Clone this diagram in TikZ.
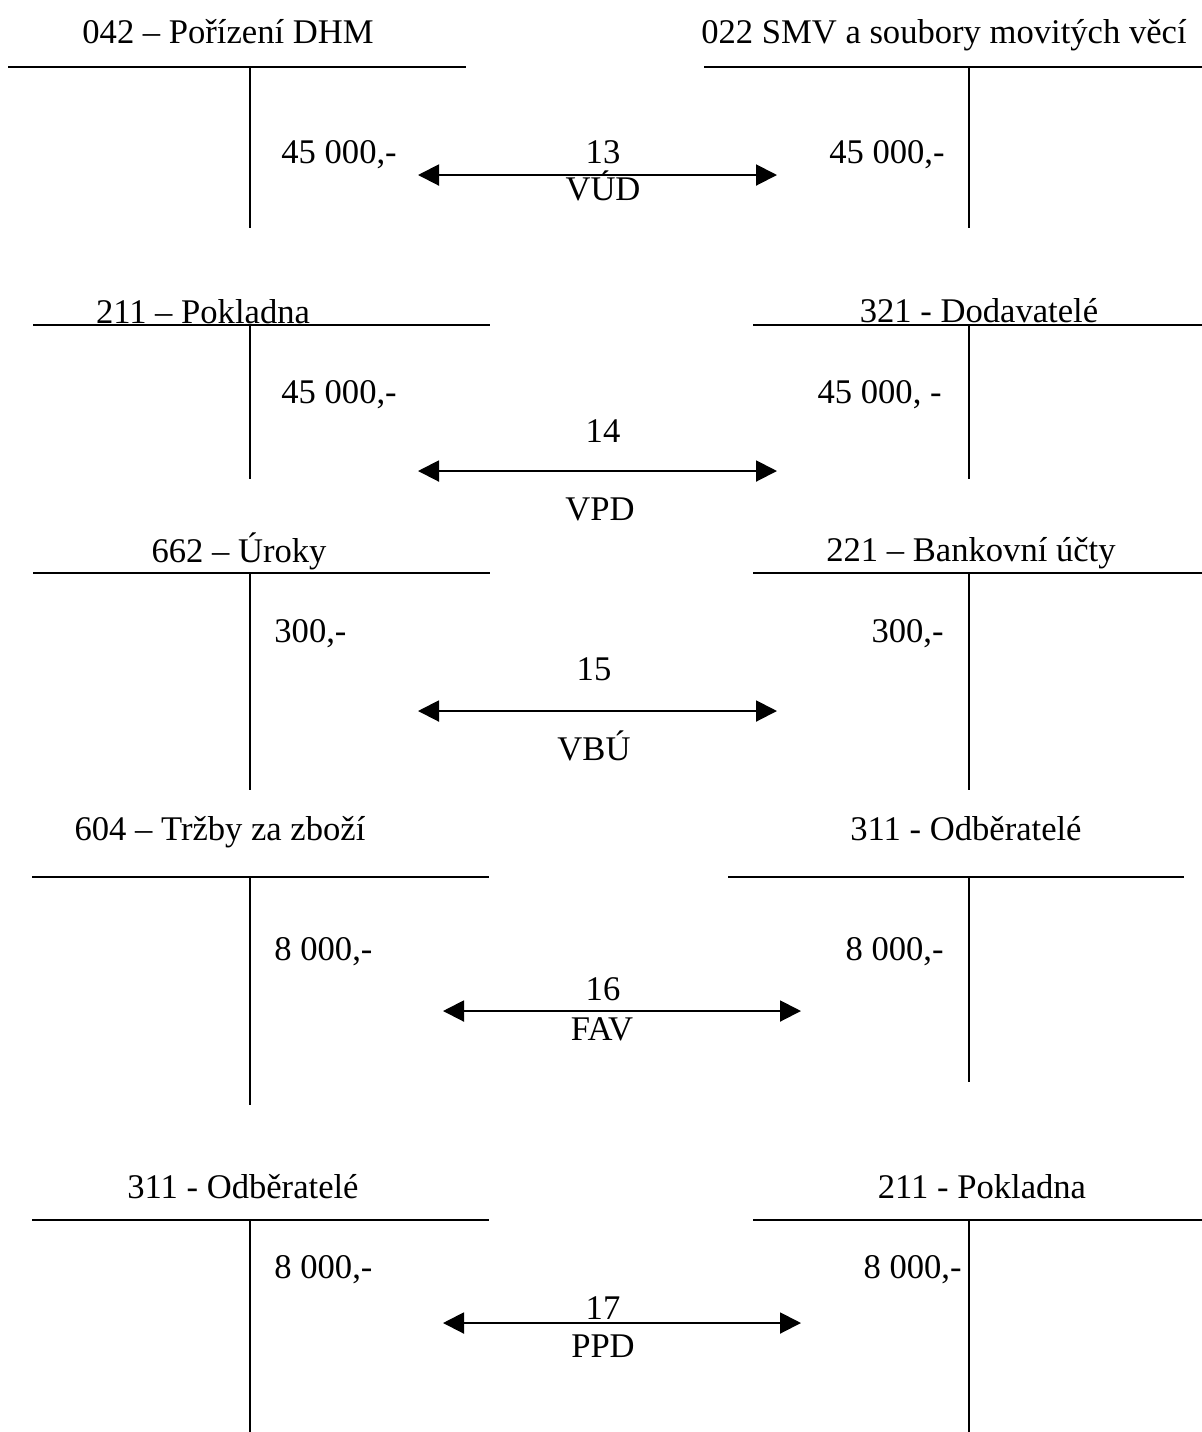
\documentclass[tikz,border=0pt]{standalone}
\usepackage{fontspec}
\setmainfont{Liberation Serif}
\usetikzlibrary{arrows.meta}
\begin{document}
\begin{tikzpicture}[x=0.5pt,y=-0.5pt,font=\fontsize{17.3}{20}\selectfont,
  >={Triangle[length=10.5pt,width=10.5pt]},
  every node/.style={inner sep=0pt},
  title/.style={anchor=base},
  amtl/.style={anchor=base west},
  amtr/.style={anchor=base east},
  lbl/.style={anchor=base},
  rule/.style={line width=1pt},
  split/.style={line width=0.7pt},
  conn/.style={<->,line width=1pt}]
  \useasboundingbox (0,0) rectangle (1202,1432);
  % 13
  \node[title] (t13l) at (228,43) {042 – Pořízení DHM};
  \node[title] (t13r) at (944,43) {022 SMV a soubory movitých věcí};
  \draw[rule] (8,67) -- (466,67);
  \draw[rule] (704,67) -- (1202,67);
  \draw[split] (250,67) -- (250,228);
  \draw[split] (969,67) -- (969,228);
  \node[amtl] (a13l) at (281,163) {45 000,-};
  \node[amtr] (a13r) at (945,163) {45 000,-};
  \node[lbl] (n13) at (603,163) {13};
  \node[lbl] (d13) at (603,200) {VÚD};
  \coordinate (e13l) at (418,175);
  \coordinate (e13r) at (777,175);
  \draw[conn] (e13l) -- (e13r);
  % 14
  \node[title] (t14l) at (203,323) {211 – Pokladna};
  \node[title] (t14r) at (979,322) {321 - Dodavatelé};
  \draw[rule] (33,325) -- (490,325);
  \draw[rule] (753,325) -- (1202,325);
  \draw[split] (250,325) -- (250,479);
  \draw[split] (969,325) -- (969,479);
  \node[amtl] (a14l) at (281,403) {45 000,-};
  \node[amtr] (a14r) at (942,403) {45 000, -};
  \node[lbl] (n14) at (603,442) {14};
  \node[lbl] (d14) at (600,520) {VPD};
  \coordinate (e14l) at (418,471);
  \coordinate (e14r) at (777,471);
  \draw[conn] (e14l) -- (e14r);
  % 15
  \node[title] (t15l) at (239,562) {662 – Úroky};
  \node[title] (t15r) at (971,561) {221 – Bankovní účty};
  \draw[rule] (33,573) -- (490,573);
  \draw[rule] (753,573) -- (1202,573);
  \draw[split] (250,573) -- (250,790);
  \draw[split] (969,573) -- (969,790);
  \node[amtl] (a15l) at (274,642) {300,-};
  \node[amtr] (a15r) at (944,642) {300,-};
  \node[lbl] (n15) at (594,680) {15};
  \node[lbl] (d15) at (594,760) {VBÚ};
  \coordinate (e15l) at (418,711);
  \coordinate (e15r) at (777,711);
  \draw[conn] (e15l) -- (e15r);
  % 16
  \node[title] (t16l) at (220,840) {604 – Tržby za zboží};
  \node[title] (t16r) at (966,840) {311 - Odběratelé};
  \draw[rule] (32,877) -- (489,877);
  \draw[rule] (728,877) -- (1184,877);
  \draw[split] (250,877) -- (250,1105);
  \draw[split] (969,877) -- (969,1082);
  \node[amtl] (a16l) at (274,960) {8 000,-};
  \node[amtr] (a16r) at (944,960) {8 000,-};
  \node[lbl] (n16) at (603,1000) {16};
  \node[lbl] (d16) at (602,1040) {FAV};
  \coordinate (e16l) at (443,1011);
  \coordinate (e16r) at (801,1011);
  \draw[conn] (e16l) -- (e16r);
  % 17
  \node[title] (t17l) at (243,1198) {311 - Odběratelé};
  \node[title] (t17r) at (982,1198) {211 - Pokladna};
  \draw[rule] (32,1220) -- (489,1220);
  \draw[rule] (753,1220) -- (1202,1220);
  \draw[split] (250,1220) -- (250,1432);
  \draw[split] (969,1220) -- (969,1432);
  \node[amtl] (a17l) at (274,1278) {8 000,-};
  \node[amtr] (a17r) at (962,1278) {8 000,-};
  \node[lbl] (n17) at (603,1319) {17};
  \node[lbl] (d17) at (603,1357) {PPD};
  \coordinate (e17l) at (443,1323);
  \coordinate (e17r) at (801,1323);
  \draw[conn] (e17l) -- (e17r);
\end{tikzpicture}
\end{document}
